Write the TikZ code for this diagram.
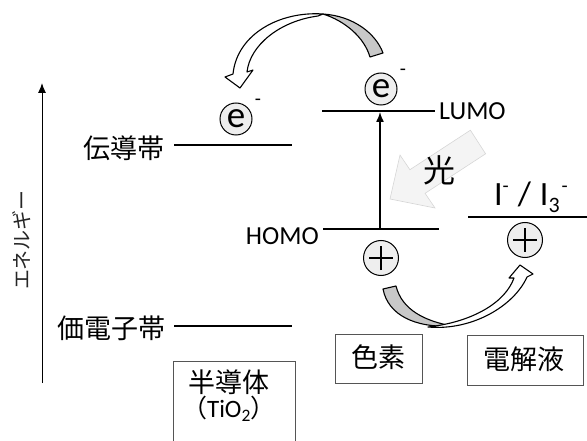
\documentclass[tikz,border=0pt]{standalone}
\usepackage{fontspec}
\setmainfont{Carlito}
\newfontfamily\jp{Noto Sans CJK JP}
\usetikzlibrary{arrows.meta}
\definecolor{circfill}{HTML}{EEEEEE}
\definecolor{backgray}{HTML}{C8C8C8}
\definecolor{lightfill}{HTML}{F4F4F4}
\definecolor{lightline}{HTML}{D6D6D6}
\definecolor{boxline}{HTML}{555555}
\newcommand{\supminus}{\raisebox{13pt}{\fontsize{20}{20}\selectfont -}}
\begin{document}
\begin{tikzpicture}[x=1pt,y=-1pt,
  jptext/.style={inner sep=0pt, font=\jp\fontsize{27}{27}\selectfont},
  latin/.style={inner sep=0pt, font=\fontsize{26}{26}\selectfont},
  band/.style={line width=1.6pt},
  ecirc/.style={circle, draw=black, line width=1pt, fill=circfill, minimum size=32pt, inner sep=0pt, font=\fontsize{37}{37}\selectfont},
  pcirc/.style={circle, draw=black, line width=1pt, fill=circfill, minimum size=35pt, inner sep=0pt},
  plusbar/.style={line width=2.6pt},
  minus/.style={inner sep=0pt, font=\fontsize{20}{20}\selectfont},
  labelbox/.style={draw=boxline, line width=0.9pt, inner sep=0pt},
  curvearrow/.style={draw=black, line width=1.1pt, line join=round},
  axis/.style={line width=1pt, -{Latex[length=10pt,width=8pt]}}
]
\useasboundingbox (0,0) rectangle (587,441);

% energy axis
\coordinate (axB) at (42,383);
\coordinate (axT) at (42,83);
\draw[axis] (axB) -- (axT);
\node[rotate=90, inner sep=0pt, text=black!85, font=\jp\fontsize{20}{20}\selectfont] (energy) at (22,240) {エネルギー};

% semiconductor bands
\node[jptext, anchor=east] (cb) at (165,148) {伝導帯};
\coordinate (cbL) at (174,145);
\coordinate (cbR) at (292,145);
\draw[band] (cbL) -- (cbR);
\node[jptext, anchor=east] (vb) at (166,328) {価電子帯};
\coordinate (vbL) at (174,326);
\coordinate (vbR) at (292,326);
\draw[band] (vbL) -- (vbR);

% dye levels
\coordinate (lumoL) at (322,111);
\coordinate (lumoR) at (435,111);
\draw[band] (lumoL) -- (lumoR);
\node[latin, anchor=west] (lumo) at (439,111) {LUMO};
\coordinate (homoL) at (323,229);
\coordinate (homoR) at (439,229);
\draw[band] (homoL) -- (homoR);
\node[latin, anchor=east] (homo) at (319,236) {HOMO};
\coordinate (exB) at (380,228);
\coordinate (exT) at (380,112);
\draw[line width=1.4pt, -{Latex[length=10pt,width=8pt]}] (exB) -- (exT);

% electrolyte level
\coordinate (elL) at (468,217);
\coordinate (elR) at (590,217);
\draw[band] (elL) -- (elR);
\node[inner sep=0pt, font=\fontsize{34}{34}\selectfont] (redox) at (531,197)
  {I\supminus\hspace{9pt}/\hspace{9pt}I\raisebox{-7pt}{\fontsize{22}{22}\selectfont 3}\hspace{2pt}\supminus};

% light arrow
\fill[lightfill, draw=lightline, line width=0.6pt]
  (390,199) -- (435,208) -- (425.1,193.3) -- (485.6,153.8) -- (470.4,130.2) -- (409.9,169.7) -- (400,155) -- cycle;
\node[inner sep=0pt, font=\jp\fontsize{32}{32}\selectfont] (light) at (439,170) {光};

% electrons
\node[ecirc] (e1) at (236,119) {e};
\node[minus] (m1) at (258,102) {-};
\node[ecirc] (e2) at (381,89) {e};
\node[minus] (m2) at (403,72) {-};

% holes
\node[pcirc] (p1) at (381,258) {};
\draw[plusbar] ([xshift=-12pt]p1.center) -- ([xshift=12pt]p1.center);
\draw[plusbar] ([yshift=-12pt]p1.center) -- ([yshift=12pt]p1.center);
\node[pcirc] (p2) at (525,240) {};
\draw[plusbar] ([xshift=-12pt]p2.center) -- ([xshift=12pt]p2.center);
\draw[plusbar] ([yshift=-12pt]p2.center) -- ([yshift=12pt]p2.center);

% top curved arrow (electron injection)
\filldraw[curvearrow, fill=backgray]
  (370,57) -- (383,53) .. controls (376,34) and (354,16) .. (323,14)
  .. controls (345,21) and (364,37) .. (370,57) -- cycle;
\filldraw[curvearrow, fill=white]
  (323,14) .. controls (280,11) and (237,34) .. (233,74) -- (225,77) -- (240,88) -- (253,70) -- (247,72)
  .. controls (250,45) and (280,21) .. (318,16) -- cycle;

% bottom curved arrow (regeneration)
\filldraw[curvearrow, fill=backgray]
  (383,289) .. controls (388,315) and (415,328) .. (452,326)
  .. controls (425,321) and (402,310) .. (396,286) -- cycle;
\filldraw[curvearrow, fill=white]
  (428,327) .. controls (472,331) and (514,306) .. (527,277) -- (533,274) -- (520,265) -- (509,278) -- (514,278)
  .. controls (505,303) and (472,322) .. (428,327) -- cycle;

% label boxes
\node[labelbox, minimum width=87pt, minimum height=49pt] (dyebox) at (378.5,358.5) {};
\node[jptext] (dye) at (378,357) {色素};
\node[labelbox, minimum width=116pt, minimum height=50pt] (elbox) at (525,360) {};
\node[jptext] (el) at (524,359) {電解液};
\coordinate (sbTL) at (173,361);
\coordinate (sbBR) at (295,470);
\draw[draw=boxline, line width=0.9pt] (sbTL) rectangle (sbBR);
\node[jptext] (semi) at (229,382) {半導体};
\node[inner sep=0pt, font=\fontsize{25}{25}\selectfont] (tio) at (229,409) {{\jp （}TiO\textsubscript{2}{\jp ）}};
\end{tikzpicture}
\end{document}
